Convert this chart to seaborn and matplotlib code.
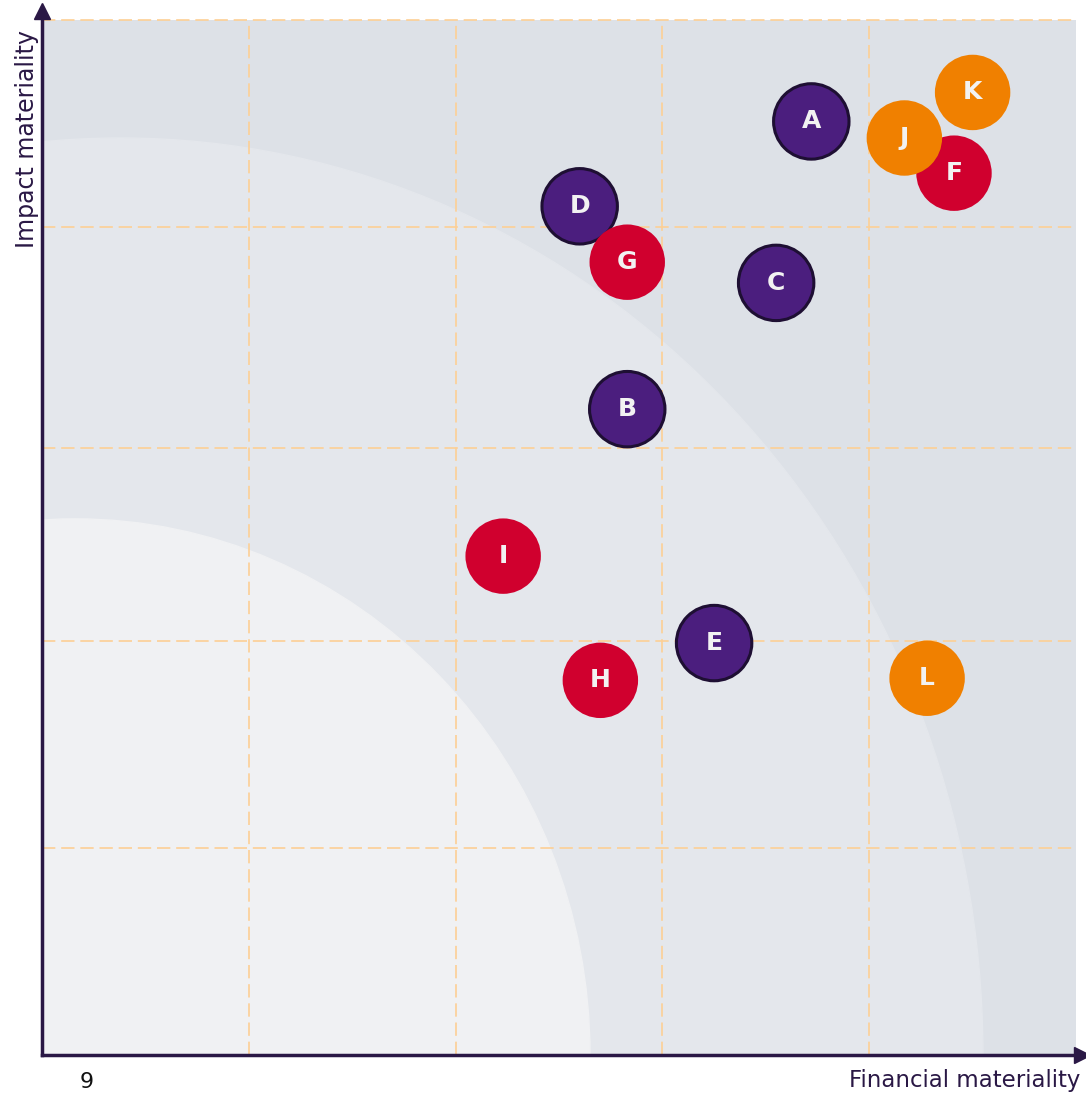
import pandas as pd
import matplotlib
matplotlib.use('Agg')
import matplotlib.pyplot as plt
from matplotlib.patches import Ellipse, Rectangle
import seaborn as sns

# Topic positions read from the matrix (0-5 scale on both axes)
labels = ['A', 'B', 'C', 'D', 'E', 'F', 'G', 'H', 'I', 'J', 'K', 'L']
groups = ['purple', 'purple', 'purple', 'purple', 'purple', 'red',
          'red', 'red', 'red', 'orange', 'orange', 'orange']
financial = [3.72, 2.83, 3.55, 2.60, 3.25, 4.41, 2.83, 2.70, 2.23, 4.17, 4.50, 4.28]
impact = [4.51, 3.12, 3.73, 4.10, 1.99, 4.26, 3.83, 1.81, 2.41, 4.43, 4.65, 1.82]

x_grid = [1, 2, 3, 4]
y_grid = [1, 2, 2.93, 4, 5]

palette = {'purple': '#4b1e7e', 'red': '#d0002e', 'orange': '#f08000'}
axis_color = '#2a1845'

df = pd.DataFrame({'label': labels, 'group': groups,
                   'financial': financial, 'impact': impact})

sns.set_theme(style='white')
plt.rcParams['font.family'] = ['DejaVu Sans']

fig = plt.figure(figsize=(10.86, 10.94), dpi=100)
ax = fig.add_axes([42 / 1086, 39 / 1094, 1034 / 1086, 1035 / 1094])
ax.set_xlim(0, 5)
ax.set_ylim(0, 5)

# background zones
ax.add_patch(Rectangle((0, 0), 5, 5, color='#dde1e7', zorder=0))
ax.add_patch(Ellipse((0.38, 0), 2 * 4.17, 2 * 4.43, color='#e4e7ec', zorder=0.1))
ax.add_patch(Ellipse((0.16, 0), 2 * 2.49, 2 * 2.59, color='#f0f1f3', zorder=0.2))

for gx in x_grid:
    ax.axvline(gx, color='#fdcf95', lw=1.2, ls=(0, (8, 3.5)), zorder=0.5)
for gy in y_grid:
    ax.axhline(gy, color='#fdcf95', lw=1.2, ls=(0, (8, 3.5)), zorder=0.5, clip_on=False)

sns.scatterplot(data=df, x='financial', y='impact', hue='group', palette=palette,
                s=2950, legend=False, ax=ax, zorder=3, linewidth=0)

coll = ax.collections[-1]
edges = ['#1e0f33' if g == 'purple' else (0, 0, 0, 0) for g in groups]
coll.set_edgecolors(edges)
coll.set_linewidths([2.2 if g == 'purple' else 0 for g in groups])

for _, row in df.iterrows():
    ax.text(row['financial'], row['impact'], row['label'], color='#f2f2f2',
            fontsize=18, fontweight='bold', ha='center', va='center', zorder=4)

ax.set_xticks([])
ax.set_yticks([])
ax.set_xlabel('')
ax.set_ylabel('')
for side in ['top', 'right']:
    ax.spines[side].set_visible(False)
for side in ['left', 'bottom']:
    ax.spines[side].set_color(axis_color)
    ax.spines[side].set_linewidth(2.5)
    ax.spines[side].set_zorder(5)

# arrow heads
ax.plot([0], [5.045], marker='^', color=axis_color, markersize=11, clip_on=False, zorder=6)
ax.plot([5.03], [0], marker='>', color=axis_color, markersize=11, clip_on=False, zorder=6)

fig.text(27 / 1086, 1 - 30 / 1094, 'Impact materiality', rotation=90,
         ha='center', va='top', fontsize=17, color=axis_color)
fig.text(1080 / 1086, 1 - 1081 / 1094, 'Financial materiality',
         ha='right', va='center', fontsize=16.5, color=axis_color)
fig.text(87 / 1086, 1 - 1092 / 1094, '9', ha='center', va='bottom',
         fontsize=16, color='#111111')

fig.savefig('out.png', dpi=100)
